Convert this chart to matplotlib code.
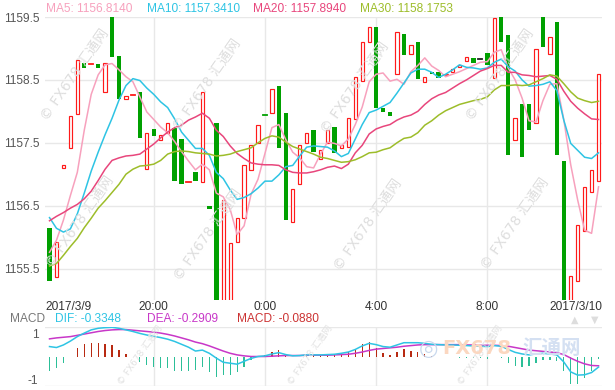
import matplotlib
matplotlib.use('Agg')
import matplotlib.pyplot as plt
import matplotlib.transforms as mtransforms

# ---------------- data ----------------
opens = [1156.15, 1155.37, 1157.10, 1157.42, 1157.95, 1158.77, 1158.74, 1158.75, 1158.30, 1159.62,
         1158.88, 1158.20, 1158.24, 1158.30, 1157.08, 1157.72, 1157.54, 1157.66, 1157.74, 1157.56,
         1156.87, 1157.03, 1156.87, 1156.50, 1157.81, 1154.95, 1154.95, 1155.93, 1156.31, 1157.07,
         1157.50, 1157.96, 1157.98, 1158.40, 1157.97, 1156.24, 1156.85, 1157.50, 1157.70, 1157.25,
         1157.50, 1157.75, 1157.41, 1157.43, 1157.88, 1158.48, 1159.11, 1159.34, 1158.06, 1157.99,
         1158.59, 1159.23, 1158.91, 1159.11, 1158.47, 1158.63, 1158.62, 1158.56, 1158.63, 1158.70,
         1158.80, 1158.85, 1158.84, 1158.92, 1158.53, 1159.65, 1159.21, 1157.54, 1158.11, 1158.11,
         1157.81, 1159.60, 1158.91, 1159.42, 1157.21, 1154.90, 1155.30, 1156.10, 1156.71, 1156.90]
closes = [1155.31, 1155.93, 1157.15, 1157.93, 1158.81, 1158.69, 1158.76, 1158.69, 1158.77, 1158.87,
          1158.20, 1158.24, 1158.27, 1157.58, 1157.66, 1157.61, 1157.62, 1157.82, 1156.89, 1156.84,
          1156.89, 1156.89, 1158.30, 1156.45, 1154.97, 1156.59, 1155.90, 1156.31, 1157.14, 1157.47,
          1157.79, 1157.93, 1158.36, 1157.42, 1156.27, 1156.76, 1157.47, 1157.66, 1157.35, 1157.38,
          1157.71, 1157.34, 1157.46, 1157.89, 1158.54, 1159.11, 1159.34, 1158.05, 1157.99, 1157.93,
          1159.26, 1158.90, 1159.05, 1158.52, 1158.54, 1158.59, 1158.53, 1158.59, 1158.68, 1158.74,
          1158.87, 1158.77, 1158.84, 1158.73, 1159.48, 1159.10, 1157.31, 1157.89, 1157.27, 1157.70,
          1158.99, 1159.02, 1159.18, 1157.31, 1154.87, 1155.38, 1156.20, 1156.79, 1157.06, 1158.59]

ma5 = [1155.76, 1155.95, 1156.27, 1156.66, 1157.03, 1157.70, 1158.27, 1158.58, 1158.74, 1158.76,
       1158.66, 1158.55, 1158.47, 1158.23, 1157.99, 1157.87, 1157.75, 1157.66, 1157.52, 1157.36,
       1157.21, 1157.07, 1157.16, 1157.07, 1156.70, 1156.64, 1156.44, 1156.04, 1156.18, 1156.68,
       1156.92, 1157.33, 1157.74, 1157.79, 1157.55, 1157.35, 1157.26, 1157.12, 1157.10, 1157.32,
       1157.51, 1157.49, 1157.45, 1157.56, 1157.79, 1158.07, 1158.47, 1158.59, 1158.61, 1158.48,
       1158.51, 1158.43, 1158.63, 1158.73, 1158.85, 1158.72, 1158.65, 1158.55, 1158.59, 1158.63,
       1158.68, 1158.73, 1158.78, 1158.79, 1158.94, 1158.98, 1158.69, 1158.50, 1158.21, 1157.85,
       1157.83, 1158.17, 1158.43, 1158.44, 1157.87, 1157.15, 1156.59, 1156.11, 1156.06, 1156.80]
ma10 = [1156.31, 1156.14, 1156.08, 1156.13, 1156.37, 1156.70, 1157.05, 1157.35, 1157.63, 1157.89,
        1158.18, 1158.41, 1158.52, 1158.49, 1158.37, 1158.27, 1158.15, 1158.06, 1157.88, 1157.67,
        1157.54, 1157.41, 1157.41, 1157.30, 1157.03, 1156.93, 1156.75, 1156.60, 1156.63, 1156.69,
        1156.78, 1156.89, 1156.89, 1156.99, 1157.12, 1157.14, 1157.29, 1157.43, 1157.45, 1157.44,
        1157.43, 1157.37, 1157.28, 1157.33, 1157.56, 1157.79, 1157.98, 1158.02, 1158.08, 1158.14,
        1158.29, 1158.45, 1158.61, 1158.67, 1158.67, 1158.62, 1158.54, 1158.59, 1158.66, 1158.74,
        1158.70, 1158.69, 1158.67, 1158.69, 1158.78, 1158.83, 1158.71, 1158.64, 1158.50, 1158.40,
        1158.41, 1158.43, 1158.47, 1158.33, 1157.86, 1157.49, 1157.38, 1157.27, 1157.25, 1157.34]
ma20 = [1156.26, 1156.33, 1156.39, 1156.46, 1156.52, 1156.61, 1156.73, 1156.90, 1157.08, 1157.22,
        1157.26, 1157.29, 1157.30, 1157.32, 1157.40, 1157.48, 1157.58, 1157.67, 1157.74, 1157.78,
        1157.86, 1157.91, 1157.97, 1157.89, 1157.70, 1157.60, 1157.45, 1157.33, 1157.25, 1157.18,
        1157.16, 1157.15, 1157.15, 1157.14, 1157.07, 1157.03, 1157.02, 1157.02, 1157.04, 1157.07,
        1157.11, 1157.13, 1157.09, 1157.16, 1157.34, 1157.46, 1157.64, 1157.72, 1157.76, 1157.79,
        1157.86, 1157.91, 1157.94, 1158.00, 1158.11, 1158.20, 1158.26, 1158.30, 1158.37, 1158.44,
        1158.50, 1158.57, 1158.64, 1158.68, 1158.73, 1158.73, 1158.62, 1158.62, 1158.58, 1158.57,
        1158.55, 1158.56, 1158.57, 1158.51, 1158.32, 1158.16, 1158.05, 1157.96, 1157.88, 1157.87]
ma30 = [1155.54, 1155.58, 1155.71, 1155.85, 1155.98, 1156.15, 1156.30, 1156.46, 1156.58, 1156.71,
        1156.84, 1157.00, 1157.08, 1157.13, 1157.14, 1157.16, 1157.22, 1157.32, 1157.36, 1157.37,
        1157.36, 1157.34, 1157.33, 1157.32, 1157.29, 1157.30, 1157.32, 1157.36, 1157.39, 1157.42,
        1157.50, 1157.57, 1157.61, 1157.59, 1157.51, 1157.44, 1157.40, 1157.36, 1157.32, 1157.27,
        1157.25, 1157.22, 1157.19, 1157.20, 1157.23, 1157.28, 1157.34, 1157.35, 1157.39, 1157.42,
        1157.50, 1157.57, 1157.59, 1157.66, 1157.78, 1157.85, 1157.94, 1158.01, 1158.06, 1158.11,
        1158.14, 1158.17, 1158.19, 1158.23, 1158.34, 1158.41, 1158.41, 1158.42, 1158.41, 1158.42,
        1158.47, 1158.52, 1158.58, 1158.56, 1158.44, 1158.31, 1158.21, 1158.17, 1158.14, 1158.16]

dif = [0.31, 0.28, 0.36, 0.48, 0.62, 0.73, 0.83, 0.88, 0.90, 0.91,
       0.88, 0.83, 0.78, 0.72, 0.67, 0.63, 0.59, 0.54, 0.47, 0.38,
       0.29, 0.17, 0.20, 0.10, -0.05, -0.18, -0.21, -0.24, -0.15, -0.06,
       0.00, 0.02, 0.08, 0.12, 0.06, 0.02, 0.03, 0.05, 0.05, 0.05,
       0.06, 0.07, 0.10, 0.14, 0.22, 0.33, 0.41, 0.37, 0.31, 0.29,
       0.36, 0.43, 0.43, 0.43, 0.41, 0.38, 0.37, 0.36, 0.36, 0.35,
       0.34, 0.33, 0.32, 0.31, 0.34, 0.32, 0.22, 0.13, 0.08, 0.05,
       0.08, 0.10, 0.08, 0.05, -0.17, -0.48, -0.58, -0.57, -0.50, -0.33]
dea = [0.55, 0.58, 0.60, 0.62, 0.66, 0.70, 0.74, 0.78, 0.81, 0.83,
       0.84, 0.84, 0.82, 0.80, 0.78, 0.76, 0.73, 0.69, 0.64, 0.58,
       0.52, 0.45, 0.40, 0.33, 0.25, 0.17, 0.10, 0.05, 0.02, 0.00,
       0.00, 0.00, 0.01, 0.02, 0.03, 0.03, 0.03, 0.04, 0.04, 0.04,
       0.04, 0.05, 0.06, 0.07, 0.10, 0.14, 0.19, 0.23, 0.25, 0.27,
       0.29, 0.32, 0.34, 0.36, 0.37, 0.37, 0.37, 0.37, 0.37, 0.37,
       0.36, 0.36, 0.35, 0.35, 0.35, 0.34, 0.32, 0.28, 0.24, 0.20,
       0.18, 0.16, 0.14, 0.12, 0.06, -0.05, -0.15, -0.23, -0.28, -0.29]
macd_hist = [-0.44, -0.35, -0.21, -0.02, 0.27, 0.38, 0.43, 0.41, 0.38, 0.35,
             0.20, 0.09, 0.00, -0.16, -0.27, -0.32, -0.35, -0.35, -0.45, -0.45,
             -0.45, -0.41, -0.32, -0.47, -0.65, -0.58, -0.58, -0.47, -0.32, -0.11,
             -0.03, 0.05, 0.14, 0.20, 0.06, -0.02, 0.00, 0.02, 0.02, 0.02,
             0.04, 0.04, 0.08, 0.14, 0.24, 0.38, 0.44, 0.28, 0.12, 0.04,
             0.14, 0.22, 0.18, 0.14, 0.08, 0.02, 0.00, -0.02, -0.02, -0.04,
             -0.04, -0.06, -0.06, -0.08, -0.02, -0.04, -0.20, -0.30, -0.32, -0.30,
             -0.20, -0.12, -0.12, -0.14, -0.46, -0.86, -0.86, -0.68, -0.44, -0.09]

price_ticks = [1155.5, 1156.5, 1157.5, 1158.5, 1159.5]
time_tick_idx = [15, 31, 47, 63]
time_tick_labels = ['20:00', '0:00', '4:00', '8:00']
first_label, last_label = '2017/3/9', '2017/3/10'
ma_names = ['MA5', 'MA10', 'MA20', 'MA30']
ma_last = ['1156.8140', '1157.3410', '1157.8940', '1158.1753']
macd_names = ['DIF', 'DEA', 'MACD']
macd_last = ['-0.3348', '-0.2909', '-0.0880']

# ---------------- style ----------------
plt.rcParams['font.family'] = ['Liberation Sans', 'Noto Sans CJK SC', 'DejaVu Sans']
RED = '#ff1a1a'
GREEN = '#00a000'
C_MA = ['#f7a1bd', '#2ec4e4', '#e8467c', '#9dbd2a']
C_DIF, C_DEA = '#2ec4e4', '#c837c8'
C_POS, C_NEG = '#b82a12', '#2cbf98'
GRID = '#e8e8e8'

W, H = 615, 390
fig = plt.figure(figsize=(W / 100, H / 100), dpi=100)
L, R = 45, 602
ax = fig.add_axes([L / W, 1 - 300 / H, (R - L) / W, (300 - 17) / H])
axm = fig.add_axes([L / W, 1 - 386 / H, (R - L) / W, (386 - 327) / H])

n = len(closes)
x = list(range(n))
xlim = (-0.65, n - 1 + 0.5)

# watermarks (drawn first, underneath everything)
wm = '© FX678 汇通网'
for (wx, wy) in [(75, 75), (207, 85), (355, 88), (500, 75), (80, 222), (208, 235), (368, 225),
                 (515, 224)]:
    fig.text(wx / W, 1 - wy / H, wm, rotation=55, ha='center', va='center', fontsize=10,
             color='#dedede', zorder=0, family=['DejaVu Sans', 'Noto Sans CJK SC'])
for (wx, wy) in [(140, 355), (310, 355), (480, 355)]:
    fig.text(wx / W, 1 - wy / H, wm, rotation=55, ha='center', va='center', fontsize=6.5,
             color='#e2e2e2', zorder=0, family=['DejaVu Sans', 'Noto Sans CJK SC'])
# faint site logo in the MACD panel
fig.text(428 / W, 1 - 349 / H, '◎', ha='center', va='center', fontsize=16, color='#c9d9ee',
         family='DejaVu Sans', zorder=0)
fig.text(442 / W, 1 - 349 / H, 'FX678', ha='left', va='center', fontsize=14, fontweight='bold',
         color='#fbd7c0', zorder=0, family='DejaVu Sans')
fig.text(522 / W, 1 - 349 / H, '汇通网', ha='left', va='center', fontsize=14, fontweight='bold',
         color='#d4e0f2', zorder=0, family='Noto Sans CJK SC')

# candles
for i in range(n):
    o, c = opens[i], closes[i]
    lo, hi = min(o, c), max(o, c)
    if abs(c - o) < 0.03:
        col = RED if c > o else ('#222222' if c == o else GREEN)
        ax.plot([i - 0.3, i + 0.3], [(o + c) / 2] * 2, color=col, lw=1.3, zorder=3)
    elif c > o:
        ax.bar(i, hi - lo, bottom=lo, width=0.47, facecolor='white', edgecolor=RED,
               linewidth=0.85, zorder=3)
    else:
        ax.bar(i, hi - lo, bottom=lo, width=0.64, facecolor=GREEN, edgecolor='none', zorder=3)

for ser, col in zip([ma5, ma10, ma20, ma30], C_MA):
    ax.plot(x, ser, color=col, lw=1.1, zorder=4, solid_joinstyle='round')

ax.set_xlim(*xlim)
ax.set_ylim(1155.0, 1159.5)
ax.set_yticks(price_ticks)
ax.set_yticklabels([f'{v:.1f}' for v in price_ticks])
ax.set_xticks(time_tick_idx)
ax.set_xticklabels([])
ax.tick_params(axis='both', length=0, labelsize=8.6, colors='#555555', pad=4)
ax.grid(True, color=GRID, lw=1, zorder=0)
ax.patch.set_alpha(0)
for s in ax.spines.values():
    s.set_visible(False)

# x labels under the main chart
tr = mtransforms.blended_transform_factory(ax.transData, fig.transFigure)
ty = 1 - 307.5 / H
for xi, lab in zip(time_tick_idx, time_tick_labels):
    fig.text(xi, ty, lab, transform=tr, ha='center', va='center', fontsize=8.6, color='#333333')
fig.text(xlim[0], ty, first_label, transform=tr, ha='left', va='center', fontsize=8.6, color='#333333')
fig.text(xlim[1], ty, last_label, transform=tr, ha='right', va='center', fontsize=8.6, color='#333333')

# MA legend line
xp = [46, 146.7, 253.3, 360]
for px, name, val, col in zip(xp, ma_names, ma_last, C_MA):
    fig.text(px / W, 1 - 9 / H, f'{name}: {val}', ha='left', va='center', fontsize=8.6, color=col)

# MACD panel
cols = [C_POS if v >= 0 else C_NEG for v in macd_hist]
axm.bar(x, macd_hist, width=0.18, color=cols, zorder=2)
axm.plot(x, dea, color=C_DEA, lw=1.1, zorder=3)
axm.plot(x, dif, color=C_DIF, lw=1.1, zorder=4)
axm.set_xlim(*xlim)
axm.set_ylim(-0.92, 0.92)
axm.set_xticks(time_tick_idx)
axm.set_yticks([-0.92, 0.92])
axm.set_yticklabels([])
axm.set_xticklabels([])
axm.tick_params(axis='both', length=0)
axm.grid(True, color=GRID, lw=1, zorder=0)
axm.patch.set_alpha(0)
for s in axm.spines.values():
    s.set_visible(False)
axm.text(-0.012, 0.86, '1', transform=axm.transAxes, ha='right', va='center', fontsize=8.6, color='#555555')
axm.text(-0.012, 0.08, '-1', transform=axm.transAxes, ha='right', va='center', fontsize=8.6, color='#555555')

ly = 1 - 318.5 / H
fig.text(10 / W, ly, 'MACD', ha='left', va='center', fontsize=8.6, color='#777777')
for px, name, val, col in zip([55, 146.7, 237.3], macd_names, macd_last, [C_DIF, C_DEA, '#cc3333']):
    fig.text(px / W, ly, f'{name}: {val}', ha='left', va='center', fontsize=8.6, color=col)
fig.text(575 / W, 1 - 320 / H, '▲', ha='center', va='center', fontsize=7, color='#dddddd',
         family='DejaVu Sans')
fig.text(595 / W, 1 - 320 / H, '▼', ha='center', va='center', fontsize=7, color='#dddddd',
         family='DejaVu Sans')

fig.savefig('out.png', dpi=100)
